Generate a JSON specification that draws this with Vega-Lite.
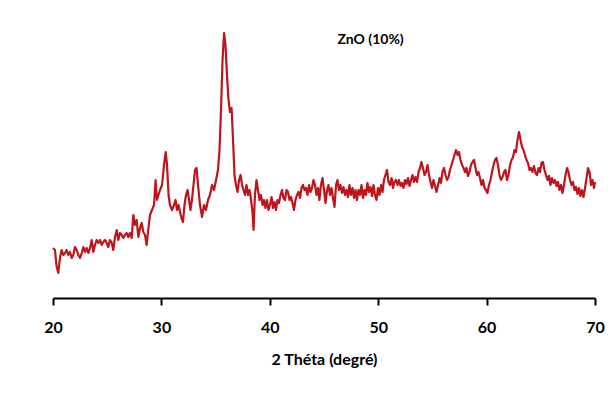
{
  "$schema": "https://vega.github.io/schema/vega-lite/v6.json",
  "width": 542,
  "height": 290,
  "autosize": {"type": "none"},
  "padding": {"left": 53, "top": 8, "right": 20, "bottom": 96},
  "background": "white",
  "config": {"view": {"stroke": null}, "font": "Lato"},
  "data": {
    "values": [
      {"theta": 20.00, "intensity": 50}, {"theta": 20.18, "intensity": 48}, {"theta": 20.34, "intensity": 31}, {"theta": 20.49, "intensity": 25},
      {"theta": 20.65, "intensity": 41}, {"theta": 20.80, "intensity": 48}, {"theta": 20.95, "intensity": 43}, {"theta": 21.11, "intensity": 45},
      {"theta": 21.26, "intensity": 48}, {"theta": 21.41, "intensity": 43}, {"theta": 21.57, "intensity": 46}, {"theta": 21.73, "intensity": 40},
      {"theta": 21.87, "intensity": 43}, {"theta": 22.03, "intensity": 51}, {"theta": 22.19, "intensity": 48}, {"theta": 22.33, "intensity": 43},
      {"theta": 22.49, "intensity": 40}, {"theta": 22.65, "intensity": 45}, {"theta": 22.80, "intensity": 51}, {"theta": 22.95, "intensity": 46},
      {"theta": 23.11, "intensity": 50}, {"theta": 23.26, "intensity": 45}, {"theta": 23.41, "intensity": 50}, {"theta": 23.57, "intensity": 58},
      {"theta": 23.72, "intensity": 46}, {"theta": 23.87, "intensity": 53}, {"theta": 24.03, "intensity": 58}, {"theta": 24.18, "intensity": 55},
      {"theta": 24.34, "intensity": 58}, {"theta": 24.49, "intensity": 53}, {"theta": 24.64, "intensity": 56}, {"theta": 24.80, "intensity": 58},
      {"theta": 24.95, "intensity": 55}, {"theta": 25.10, "intensity": 51}, {"theta": 25.26, "intensity": 58}, {"theta": 25.42, "intensity": 55},
      {"theta": 25.56, "intensity": 48}, {"theta": 25.72, "intensity": 61}, {"theta": 25.88, "intensity": 68}, {"theta": 26.02, "intensity": 58},
      {"theta": 26.18, "intensity": 65}, {"theta": 26.34, "intensity": 63}, {"theta": 26.49, "intensity": 60}, {"theta": 26.64, "intensity": 63},
      {"theta": 26.80, "intensity": 65}, {"theta": 26.95, "intensity": 61}, {"theta": 27.10, "intensity": 65}, {"theta": 27.26, "intensity": 60},
      {"theta": 27.41, "intensity": 83}, {"theta": 27.56, "intensity": 73}, {"theta": 27.72, "intensity": 78}, {"theta": 27.87, "intensity": 61},
      {"theta": 28.03, "intensity": 70}, {"theta": 28.18, "intensity": 75}, {"theta": 28.33, "intensity": 66}, {"theta": 28.49, "intensity": 63},
      {"theta": 28.64, "intensity": 53}, {"theta": 28.76, "intensity": 66}, {"theta": 28.95, "intensity": 83}, {"theta": 29.13, "intensity": 88},
      {"theta": 29.32, "intensity": 93}, {"theta": 29.46, "intensity": 118}, {"theta": 29.59, "intensity": 98}, {"theta": 29.73, "intensity": 103},
      {"theta": 29.87, "intensity": 108}, {"theta": 30.06, "intensity": 113}, {"theta": 30.24, "intensity": 133}, {"theta": 30.40, "intensity": 146},
      {"theta": 30.52, "intensity": 133}, {"theta": 30.66, "intensity": 103}, {"theta": 30.79, "intensity": 93}, {"theta": 30.98, "intensity": 88},
      {"theta": 31.16, "intensity": 93}, {"theta": 31.30, "intensity": 98}, {"theta": 31.44, "intensity": 88}, {"theta": 31.58, "intensity": 93},
      {"theta": 31.72, "intensity": 86}, {"theta": 31.85, "intensity": 80}, {"theta": 31.99, "intensity": 76}, {"theta": 32.13, "intensity": 93},
      {"theta": 32.27, "intensity": 103}, {"theta": 32.41, "intensity": 108}, {"theta": 32.55, "intensity": 98}, {"theta": 32.68, "intensity": 88},
      {"theta": 32.82, "intensity": 98}, {"theta": 32.96, "intensity": 113}, {"theta": 33.10, "intensity": 128}, {"theta": 33.24, "intensity": 130},
      {"theta": 33.38, "intensity": 113}, {"theta": 33.56, "intensity": 93}, {"theta": 33.75, "intensity": 81}, {"theta": 33.93, "intensity": 93},
      {"theta": 34.11, "intensity": 88}, {"theta": 34.30, "intensity": 98}, {"theta": 34.48, "intensity": 103}, {"theta": 34.67, "intensity": 113},
      {"theta": 34.85, "intensity": 108}, {"theta": 35.04, "intensity": 118}, {"theta": 35.22, "intensity": 128}, {"theta": 35.36, "intensity": 148},
      {"theta": 35.50, "intensity": 188}, {"theta": 35.64, "intensity": 238}, {"theta": 35.78, "intensity": 265}, {"theta": 35.91, "intensity": 253},
      {"theta": 36.05, "intensity": 223}, {"theta": 36.19, "intensity": 198}, {"theta": 36.33, "intensity": 186}, {"theta": 36.47, "intensity": 190},
      {"theta": 36.61, "intensity": 158}, {"theta": 36.74, "intensity": 123}, {"theta": 36.88, "intensity": 113}, {"theta": 37.02, "intensity": 106},
      {"theta": 37.16, "intensity": 118}, {"theta": 37.30, "intensity": 123}, {"theta": 37.44, "intensity": 113}, {"theta": 37.57, "intensity": 108},
      {"theta": 37.71, "intensity": 103}, {"theta": 37.85, "intensity": 113}, {"theta": 37.99, "intensity": 103}, {"theta": 38.13, "intensity": 108},
      {"theta": 38.27, "intensity": 98}, {"theta": 38.40, "intensity": 86}, {"theta": 38.50, "intensity": 68}, {"theta": 38.63, "intensity": 103},
      {"theta": 38.77, "intensity": 118}, {"theta": 38.91, "intensity": 108}, {"theta": 39.05, "intensity": 98}, {"theta": 39.19, "intensity": 103},
      {"theta": 39.33, "intensity": 93}, {"theta": 39.46, "intensity": 98}, {"theta": 39.60, "intensity": 90}, {"theta": 39.74, "intensity": 98},
      {"theta": 39.88, "intensity": 88}, {"theta": 40.02, "intensity": 93}, {"theta": 40.16, "intensity": 101}, {"theta": 40.30, "intensity": 90},
      {"theta": 40.43, "intensity": 96}, {"theta": 40.57, "intensity": 88}, {"theta": 40.71, "intensity": 98}, {"theta": 40.85, "intensity": 95},
      {"theta": 40.99, "intensity": 103}, {"theta": 41.13, "intensity": 108}, {"theta": 41.26, "intensity": 100}, {"theta": 41.40, "intensity": 98},
      {"theta": 41.54, "intensity": 108}, {"theta": 41.68, "intensity": 106}, {"theta": 41.82, "intensity": 98}, {"theta": 41.96, "intensity": 101},
      {"theta": 42.09, "intensity": 95}, {"theta": 42.23, "intensity": 88}, {"theta": 42.37, "intensity": 98}, {"theta": 42.51, "intensity": 103},
      {"theta": 42.65, "intensity": 106}, {"theta": 42.79, "intensity": 100}, {"theta": 42.92, "intensity": 110}, {"theta": 43.06, "intensity": 113},
      {"theta": 43.20, "intensity": 108}, {"theta": 43.34, "intensity": 110}, {"theta": 43.48, "intensity": 103}, {"theta": 43.62, "intensity": 113},
      {"theta": 43.75, "intensity": 106}, {"theta": 43.89, "intensity": 110}, {"theta": 44.03, "intensity": 118}, {"theta": 44.17, "intensity": 113},
      {"theta": 44.31, "intensity": 103}, {"theta": 44.45, "intensity": 110}, {"theta": 44.58, "intensity": 98}, {"theta": 44.72, "intensity": 113},
      {"theta": 44.86, "intensity": 120}, {"theta": 45.00, "intensity": 108}, {"theta": 45.14, "intensity": 95}, {"theta": 45.28, "intensity": 108},
      {"theta": 45.41, "intensity": 113}, {"theta": 45.55, "intensity": 103}, {"theta": 45.69, "intensity": 110}, {"theta": 45.83, "intensity": 100},
      {"theta": 45.97, "intensity": 91}, {"theta": 46.11, "intensity": 113}, {"theta": 46.24, "intensity": 118}, {"theta": 46.38, "intensity": 108},
      {"theta": 46.52, "intensity": 113}, {"theta": 46.66, "intensity": 105}, {"theta": 46.80, "intensity": 111}, {"theta": 46.94, "intensity": 103},
      {"theta": 47.08, "intensity": 108}, {"theta": 47.21, "intensity": 101}, {"theta": 47.35, "intensity": 113}, {"theta": 47.49, "intensity": 103},
      {"theta": 47.63, "intensity": 110}, {"theta": 47.77, "intensity": 100}, {"theta": 47.91, "intensity": 108}, {"theta": 48.04, "intensity": 98},
      {"theta": 48.18, "intensity": 108}, {"theta": 48.32, "intensity": 103}, {"theta": 48.46, "intensity": 113}, {"theta": 48.60, "intensity": 100},
      {"theta": 48.74, "intensity": 108}, {"theta": 48.87, "intensity": 103}, {"theta": 49.01, "intensity": 115}, {"theta": 49.15, "intensity": 106},
      {"theta": 49.29, "intensity": 111}, {"theta": 49.43, "intensity": 102}, {"theta": 49.57, "intensity": 113}, {"theta": 49.70, "intensity": 103},
      {"theta": 49.84, "intensity": 98}, {"theta": 49.98, "intensity": 110}, {"theta": 50.12, "intensity": 103}, {"theta": 50.26, "intensity": 113},
      {"theta": 50.40, "intensity": 106}, {"theta": 50.53, "intensity": 118}, {"theta": 50.67, "intensity": 123}, {"theta": 50.81, "intensity": 128},
      {"theta": 50.95, "intensity": 116}, {"theta": 51.09, "intensity": 113}, {"theta": 51.23, "intensity": 120}, {"theta": 51.37, "intensity": 110},
      {"theta": 51.50, "intensity": 116}, {"theta": 51.64, "intensity": 118}, {"theta": 51.78, "intensity": 113}, {"theta": 51.92, "intensity": 118},
      {"theta": 52.06, "intensity": 112}, {"theta": 52.20, "intensity": 115}, {"theta": 52.33, "intensity": 110}, {"theta": 52.47, "intensity": 118},
      {"theta": 52.61, "intensity": 114}, {"theta": 52.75, "intensity": 120}, {"theta": 52.89, "intensity": 112}, {"theta": 53.03, "intensity": 118},
      {"theta": 53.16, "intensity": 123}, {"theta": 53.30, "intensity": 116}, {"theta": 53.44, "intensity": 121}, {"theta": 53.58, "intensity": 116},
      {"theta": 53.72, "intensity": 126}, {"theta": 53.86, "intensity": 130}, {"theta": 53.99, "intensity": 136}, {"theta": 54.13, "intensity": 130},
      {"theta": 54.27, "intensity": 123}, {"theta": 54.41, "intensity": 126}, {"theta": 54.55, "intensity": 133}, {"theta": 54.69, "intensity": 123},
      {"theta": 54.83, "intensity": 116}, {"theta": 54.96, "intensity": 110}, {"theta": 55.10, "intensity": 118}, {"theta": 55.24, "intensity": 112},
      {"theta": 55.38, "intensity": 106}, {"theta": 55.52, "intensity": 113}, {"theta": 55.66, "intensity": 120}, {"theta": 55.79, "intensity": 115},
      {"theta": 55.93, "intensity": 126}, {"theta": 56.07, "intensity": 130}, {"theta": 56.21, "intensity": 123}, {"theta": 56.35, "intensity": 118},
      {"theta": 56.49, "intensity": 121}, {"theta": 56.62, "intensity": 128}, {"theta": 56.76, "intensity": 133}, {"theta": 56.90, "intensity": 138},
      {"theta": 57.04, "intensity": 143}, {"theta": 57.18, "intensity": 148}, {"theta": 57.32, "intensity": 143}, {"theta": 57.45, "intensity": 146},
      {"theta": 57.59, "intensity": 138}, {"theta": 57.73, "intensity": 133}, {"theta": 57.87, "intensity": 130}, {"theta": 58.01, "intensity": 126},
      {"theta": 58.15, "intensity": 130}, {"theta": 58.28, "intensity": 122}, {"theta": 58.42, "intensity": 126}, {"theta": 58.56, "intensity": 133},
      {"theta": 58.70, "intensity": 136}, {"theta": 58.84, "intensity": 138}, {"theta": 58.98, "intensity": 130}, {"theta": 59.11, "intensity": 123},
      {"theta": 59.25, "intensity": 126}, {"theta": 59.39, "intensity": 120}, {"theta": 59.53, "intensity": 113}, {"theta": 59.67, "intensity": 118},
      {"theta": 59.81, "intensity": 110}, {"theta": 59.94, "intensity": 108}, {"theta": 60.08, "intensity": 105}, {"theta": 60.22, "intensity": 113},
      {"theta": 60.36, "intensity": 118}, {"theta": 60.50, "intensity": 126}, {"theta": 60.64, "intensity": 133}, {"theta": 60.77, "intensity": 138},
      {"theta": 60.91, "intensity": 140}, {"theta": 61.05, "intensity": 133}, {"theta": 61.19, "intensity": 123}, {"theta": 61.33, "intensity": 118},
      {"theta": 61.47, "intensity": 121}, {"theta": 61.60, "intensity": 126}, {"theta": 61.74, "intensity": 128}, {"theta": 61.88, "intensity": 118},
      {"theta": 62.02, "intensity": 123}, {"theta": 62.16, "intensity": 133}, {"theta": 62.30, "intensity": 138}, {"theta": 62.44, "intensity": 141},
      {"theta": 62.57, "intensity": 148}, {"theta": 62.71, "intensity": 146}, {"theta": 62.85, "intensity": 158}, {"theta": 62.99, "intensity": 166},
      {"theta": 63.13, "intensity": 158}, {"theta": 63.27, "intensity": 151}, {"theta": 63.40, "intensity": 148}, {"theta": 63.54, "intensity": 143},
      {"theta": 63.68, "intensity": 138}, {"theta": 63.82, "intensity": 135}, {"theta": 63.96, "intensity": 128}, {"theta": 64.10, "intensity": 130},
      {"theta": 64.23, "intensity": 126}, {"theta": 64.37, "intensity": 132}, {"theta": 64.51, "intensity": 125}, {"theta": 64.65, "intensity": 123},
      {"theta": 64.79, "intensity": 130}, {"theta": 64.93, "intensity": 126}, {"theta": 65.06, "intensity": 135}, {"theta": 65.20, "intensity": 136},
      {"theta": 65.34, "intensity": 128}, {"theta": 65.48, "intensity": 123}, {"theta": 65.62, "intensity": 118}, {"theta": 65.76, "intensity": 122},
      {"theta": 65.89, "intensity": 113}, {"theta": 66.03, "intensity": 120}, {"theta": 66.17, "intensity": 115}, {"theta": 66.31, "intensity": 118},
      {"theta": 66.45, "intensity": 112}, {"theta": 66.59, "intensity": 116}, {"theta": 66.72, "intensity": 108}, {"theta": 66.86, "intensity": 113},
      {"theta": 67.00, "intensity": 105}, {"theta": 67.14, "intensity": 113}, {"theta": 67.28, "intensity": 123}, {"theta": 67.42, "intensity": 130},
      {"theta": 67.55, "intensity": 126}, {"theta": 67.69, "intensity": 118}, {"theta": 67.83, "intensity": 113}, {"theta": 67.97, "intensity": 116},
      {"theta": 68.11, "intensity": 108}, {"theta": 68.25, "intensity": 111}, {"theta": 68.39, "intensity": 104}, {"theta": 68.52, "intensity": 110},
      {"theta": 68.66, "intensity": 102}, {"theta": 68.80, "intensity": 108}, {"theta": 68.94, "intensity": 101}, {"theta": 69.08, "intensity": 110},
      {"theta": 69.22, "intensity": 120}, {"theta": 69.36, "intensity": 130}, {"theta": 69.49, "intensity": 126}, {"theta": 69.63, "intensity": 113},
      {"theta": 69.77, "intensity": 118}, {"theta": 69.91, "intensity": 110}, {"theta": 70.00, "intensity": 116}
    ]
  },
  "layer": [
    {
      "mark": {"type": "line", "color": "#C0141C", "strokeWidth": 2.2, "strokeJoin": "round"},
      "encoding": {
        "x": {
          "field": "theta",
          "type": "quantitative",
          "scale": {"domain": [20, 70], "nice": false, "zero": false},
          "axis": {
            "title": "2 Théta (degré)",
            "values": [20, 30, 40, 50, 60, 70],
            "grid": false,
            "domainColor": "#000000",
            "domainWidth": 2,
            "tickColor": "#000000",
            "tickWidth": 2,
            "tickSize": 7,
            "labelFont": "Lato",
            "labelFontSize": 16,
            "labelFontWeight": "bold",
            "labelColor": "#000000",
            "labelPadding": 14,
            "labelFlush": false,
            "titleFont": "Lato",
            "titleFontSize": 16,
            "titleFontWeight": "bold",
            "titleColor": "#000000",
            "titlePadding": 16
          }
        },
        "y": {
          "field": "intensity",
          "type": "quantitative",
          "scale": {"domain": [0, 290], "nice": false},
          "axis": null
        }
      }
    },
    {
      "data": {"values": [{"label": "ZnO (10%)"}]},
      "mark": {"type": "text", "font": "Lato", "fontSize": 14, "fontWeight": "bold", "color": "#000000", "align": "center", "baseline": "middle"},
      "encoding": {
        "text": {"field": "label"},
        "x": {"datum": 49.3, "type": "quantitative"},
        "y": {"datum": 258, "type": "quantitative"}
      }
    }
  ]
}
